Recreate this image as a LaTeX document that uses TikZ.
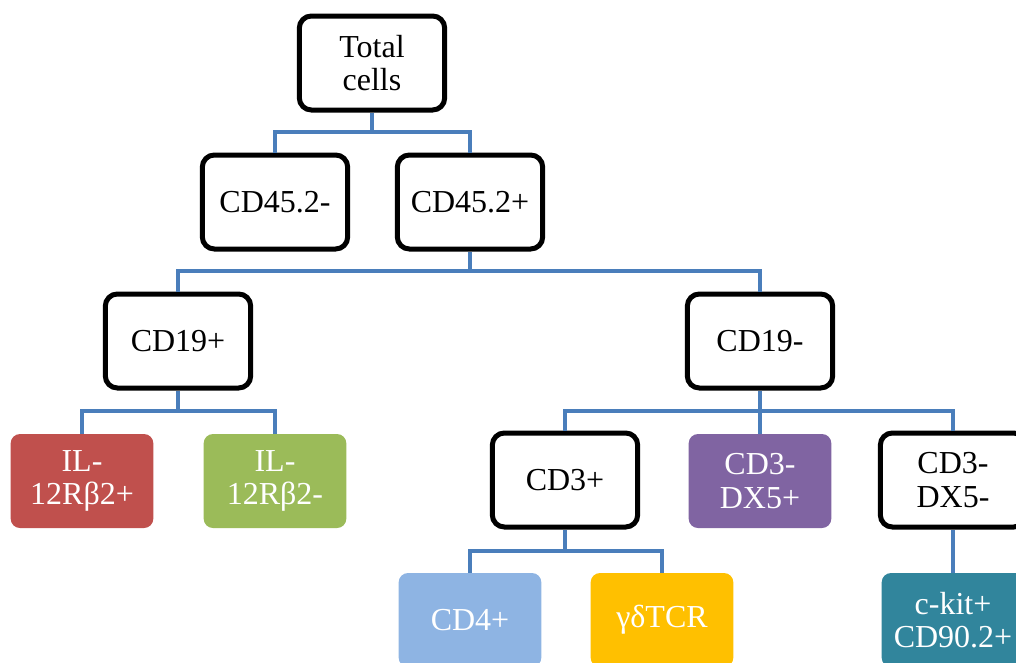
\documentclass[tikz,border=0pt]{standalone}
\usepackage{fontspec}
\setmainfont{Liberation Serif}
\usetikzlibrary{positioning}
\definecolor{linkblue}{HTML}{4A7EBB}
\definecolor{redcell}{HTML}{C0504D}
\definecolor{greencell}{HTML}{9BBB59}
\definecolor{purplecell}{HTML}{8064A2}
\definecolor{bluecell}{HTML}{8EB4E3}
\definecolor{goldcell}{HTML}{FFC000}
\definecolor{tealcell}{HTML}{31859C}
\tikzset{
  cellbox/.style={draw=black, line width=3.75pt, rounded corners=9pt, fill=white,
    minimum width=109pt, minimum height=70.5pt, inner sep=0pt, align=center,
    font=\fontsize{24}{25}\selectfont},
  subsetbox/.style={rounded corners=7pt, minimum width=107pt, minimum height=70.5pt,
    inner sep=0pt, align=center, text=white, font=\fontsize{24}{25}\selectfont},
  link/.style={draw=linkblue, line width=3pt}
}
\begin{document}
\begin{tikzpicture}[x=0.75pt, y=-0.75pt]
    \useasboundingbox (0,0) rectangle (1016,662);
    \clip (0,0) rectangle (1016,662);

    % kotak-kotak utama
    \node[cellbox] (total) at (372,63)  {Total\\cells};
    \node[cellbox] (cdneg) at (275,202) {CD45.2-};
    \node[cellbox] (cdpos) at (470,202) {CD45.2+};
    \node[cellbox] (bpos)  at (178,341) {CD19+};
    \node[cellbox] (bneg)  at (760,341) {CD19-};
    \node[cellbox] (tpos)  at (565,480) {CD3+};
    \node[cellbox] (dxneg) at (953,480) {CD3-\\DX5-};

    % kotak-kotak berwarna
    \node[subsetbox, fill=redcell]    (ilpos) at (82,481)  {IL-\\12Rβ2+};
    \node[subsetbox, fill=greencell]  (ilneg) at (275,481) {IL-\\12Rβ2-};
    \node[subsetbox, fill=purplecell] (dxpos) at (760,481) {CD3-\\DX5+};
    \node[subsetbox, fill=bluecell]   (cdfour) at (470,620) {CD4+};
    \node[subsetbox, fill=goldcell]   (gdtcr) at (662,620) {γδTCR};
    \node[subsetbox, fill=tealcell]   (ckit)  at (953,620) {c-kit+\\CD90.2+};

    % garis penghubung
    \draw[link] (total.south) -- ++(0,19) -| (cdneg.north);
    \draw[link] (total.south) -- ++(0,19) -| (cdpos.north);
    \draw[link] (cdpos.south) -- ++(0,19) -| (bpos.north);
    \draw[link] (cdpos.south) -- ++(0,19) -| (bneg.north);
    \draw[link] (bpos.south) -- ++(0,20) -| (ilpos.north);
    \draw[link] (bpos.south) -- ++(0,20) -| (ilneg.north);
    \draw[link] (bneg.south) -- ++(0,20) -| (tpos.north);
    \draw[link] (bneg.south) -- ++(0,20) -| (dxpos.north);
    \draw[link] (bneg.south) -- ++(0,20) -| (dxneg.north);
    \draw[link] (tpos.south) -- ++(0,21) -| (cdfour.north);
    \draw[link] (tpos.south) -- ++(0,21) -| (gdtcr.north);
    \draw[link] (dxneg.south) -- (ckit.north);
\end{tikzpicture}
\end{document}
